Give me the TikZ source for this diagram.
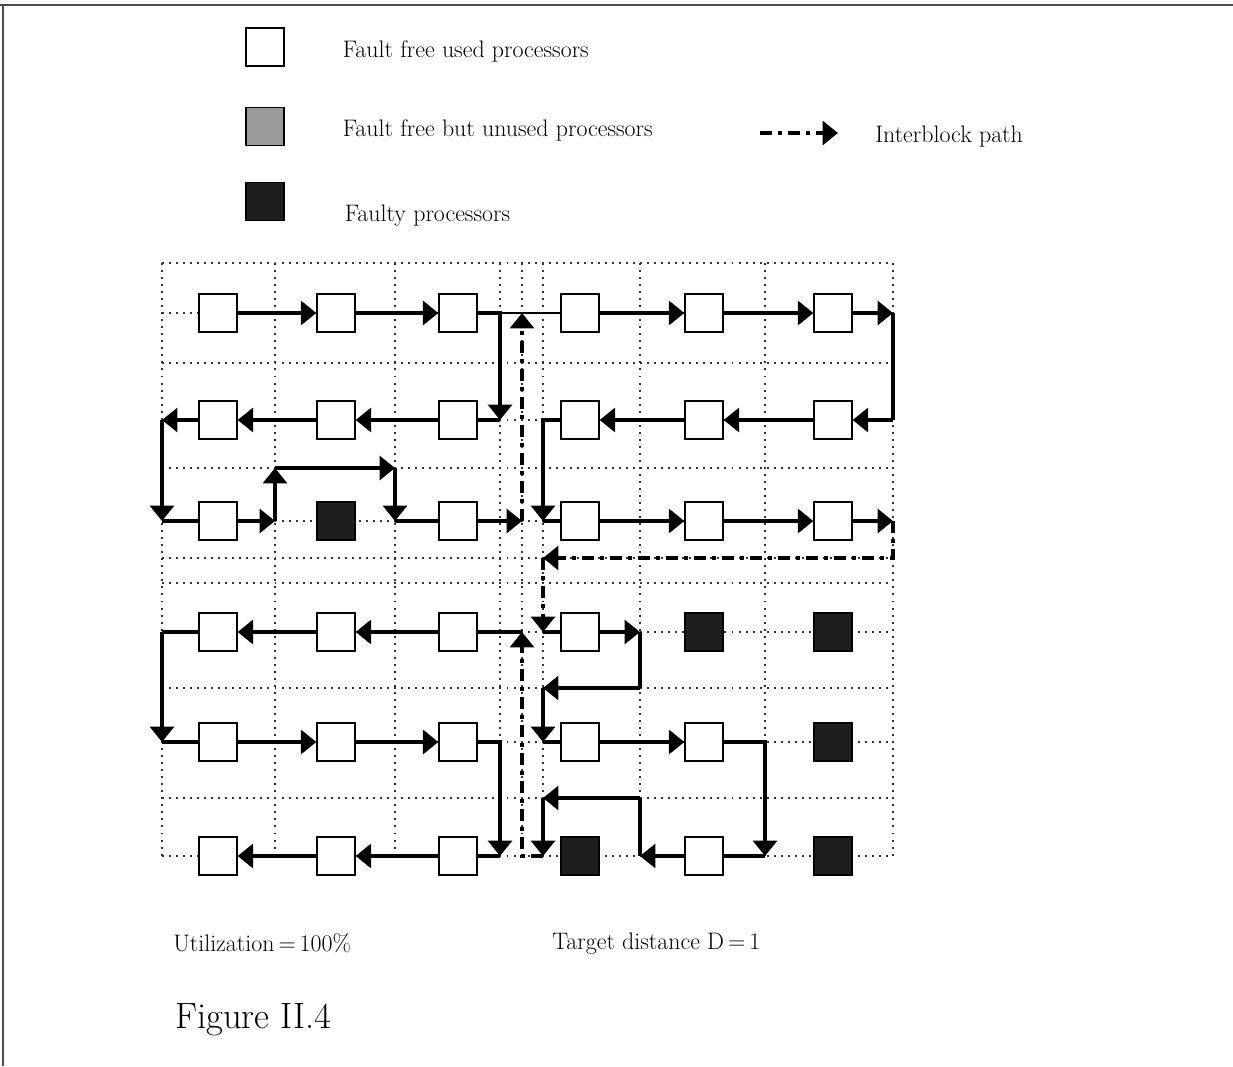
\documentclass[tikz,border=0pt]{standalone}
\usepackage{xcolor}
\usepackage{tikz}
\usetikzlibrary{positioning,arrows.meta}
\definecolor{faultgray}{HTML}{1E1E1E}
\definecolor{sparegray}{HTML}{9A9A9A}

\begin{document}
\begin{tikzpicture}[
x=0.025cm, y=-0.025cm,
proc/.style={
draw=black,
fill=white,
line width=0.9pt,
minimum size=0.95cm,
inner sep=0pt
},
faulty/.style={proc, fill=faultgray},
spare/.style={proc, fill=sparegray},
meshline/.style={
black!80,
line width=1.4pt,
dash pattern=on 1.4pt off 3.6pt
},
arrow/.style={
-{Triangle[length=11pt,width=17pt]},
line width=3.2pt
},
link/.style={line width=3.2pt},
thinlink/.style={line width=1.5pt},
inter/.style={
-{Triangle[length=11pt,width=17pt]},
line width=3pt,
dash pattern=on 8.5pt off 4.3pt on 2.8pt off 4.3pt
},
legendtext/.style={font=\fontsize{17}{20}\selectfont, inner sep=0pt},
pageline/.style={black!70, line width=1.5pt}
]

\useasboundingbox (0,0) rectangle (1233,1066);

% page frame
\draw[pageline] (0,5) -- (1233,5);
\draw[pageline] (3,5) -- (3,1066);

% legend
\node[proc] (keyused) at (265,47) {};
\node[spare, below=1.0cm of keyused] (keyspare) {};
\node[faulty, below=0.9cm of keyspare] (keyfault) {};

\node[legendtext, right=1.45cm of keyused, yshift=-0.1cm] (keyusedtext)
{Fault free used processors};
\node[legendtext, right=1.45cm of keyspare, yshift=-0.1cm] (keysparetext)
{Fault free but unused processors};
\node[legendtext, right=1.5cm of keyfault, yshift=-0.35cm] (keyfaulttext)
{Faulty processors};

\coordinate (keypathstart) at (760,133);
\coordinate (keypathend) at (838,133);
\draw[inter] (keypathstart) -- (keypathend);
\node[legendtext, anchor=west] (keypathtext) at (875,137) {Interblock path};

% mesh
\draw[meshline]
(162,263) -- (893,263) (162,363) -- (893,363) (162,468) -- (893,468)
(162,558) -- (893,558) (162,583) -- (893,583) (162,688) -- (893,688)
(162,798) -- (893,798)
(162,313) -- (893,313) (162,420) -- (893,420) (162,521) -- (893,521)
(162,632) -- (893,632) (162,742) -- (893,742) (162,856) -- (893,856)
(162,263) -- (162,856) (275,263) -- (275,856) (395,263) -- (395,856)
(500,263) -- (500,856) (522,263) -- (522,856) (543,263) -- (543,856)
(640,263) -- (640,856) (765,263) -- (765,856) (893,263) -- (893,856);

% processors
\node[proc] (p11) at (218,313) {};
\node[proc] (p12) at (336,313) {};
\node[proc] (p13) at (458,313) {};
\node[proc] (p14) at (580,313) {};
\node[proc] (p15) at (704,313) {};
\node[proc] (p16) at (833,313) {};

\node[proc] (p21) at (218,420) {};
\node[proc] (p22) at (336,420) {};
\node[proc] (p23) at (458,420) {};
\node[proc] (p24) at (580,420) {};
\node[proc] (p25) at (704,420) {};
\node[proc] (p26) at (833,420) {};

\node[proc] (p31) at (218,521) {};
\node[faulty] (p32) at (336,521) {};
\node[proc] (p33) at (458,521) {};
\node[proc] (p34) at (580,521) {};
\node[proc] (p35) at (704,521) {};
\node[proc] (p36) at (833,521) {};

\node[proc] (p41) at (218,632) {};
\node[proc] (p42) at (336,632) {};
\node[proc] (p43) at (458,632) {};
\node[proc] (p44) at (580,632) {};
\node[faulty] (p45) at (704,632) {};
\node[faulty] (p46) at (833,632) {};

\node[proc] (p51) at (218,742) {};
\node[proc] (p52) at (336,742) {};
\node[proc] (p53) at (458,742) {};
\node[proc] (p54) at (580,742) {};
\node[proc] (p55) at (704,742) {};
\node[faulty] (p56) at (833,742) {};

\node[proc] (p61) at (218,856) {};
\node[proc] (p62) at (336,856) {};
\node[proc] (p63) at (458,856) {};
\node[faulty] (p64) at (580,856) {};
\node[proc] (p65) at (704,856) {};
\node[faulty] (p66) at (833,856) {};

% turning points
\coordinate (a1) at (500,313);
\coordinate (a2) at (500,420);
\coordinate (a3) at (162,420);
\coordinate (a4) at (162,521);
\coordinate (a5) at (275,521);
\coordinate (a6) at (275,468);
\coordinate (a7) at (395,468);
\coordinate (a8) at (395,521);
\coordinate (a9) at (522,521);
\coordinate (b0) at (522,313);
\coordinate (b1) at (893,313);
\coordinate (b2) at (893,420);
\coordinate (b3) at (543,420);
\coordinate (b4) at (543,521);
\coordinate (b5) at (893,521);
\coordinate (b6) at (893,558);
\coordinate (b7) at (543,558);
\coordinate (d0) at (543,632);
\coordinate (d1) at (640,632);
\coordinate (d2) at (640,688);
\coordinate (d3) at (543,688);
\coordinate (d4) at (543,742);
\coordinate (d5) at (765,742);
\coordinate (d6) at (765,856);
\coordinate (d7) at (640,856);
\coordinate (d8) at (640,798);
\coordinate (d9) at (543,798);
\coordinate (d10) at (543,856);
\coordinate (c0) at (522,856);
\coordinate (c1) at (522,632);
\coordinate (c2) at (162,632);
\coordinate (c3) at (162,742);
\coordinate (c4) at (500,742);
\coordinate (c5) at (500,856);

% upper left block
\draw[arrow] (p11) -- (p12);
\draw[arrow] (p12) -- (p13);
\draw[arrow] (p13) -- (a1) -- (a2);
\draw[link] (a2) -- (p23);
\draw[arrow] (p23) -- (p22);
\draw[arrow] (p22) -- (p21);
\draw[arrow] (p21) -- (a3);
\draw[arrow] (a3) -- (a4);
\draw[link] (a4) -- (p31);
\draw[arrow] (p31) -- (a5);
\draw[arrow] (a5) -- (a6);
\draw[arrow] (a6) -- (a7);
\draw[arrow] (a7) -- (a8);
\draw[link] (a8) -- (p33);
\draw[arrow] (p33) -- (a9);
\draw[inter] (a9) -- (b0);

% upper right block
\draw[thinlink] (a1) -- (p14);
\draw[arrow] (p14) -- (p15);
\draw[arrow] (p15) -- (p16);
\draw[arrow] (p16) -- (b1);
\draw[link] (b1) -- (b2);
\draw[arrow] (b2) -- (p26);
\draw[arrow] (p26) -- (p25);
\draw[arrow] (p25) -- (p24);
\draw[arrow] (p24) -- (b3) -- (b4);
\draw[link] (b4) -- (p34);
\draw[arrow] (p34) -- (p35);
\draw[arrow] (p35) -- (p36);
\draw[arrow] (p36) -- (b5);
\draw[inter] (b5) -- (b6) -- (b7);
\draw[inter] (b7) -- (d0);

% lower right block
\draw[link] (d0) -- (p44);
\draw[arrow] (p44) -- (d1);
\draw[link] (d1) -- (d2);
\draw[arrow] (d2) -- (d3);
\draw[arrow] (d3) -- (d4);
\draw[link] (d4) -- (p54);
\draw[arrow] (p54) -- (p55);
\draw[arrow] (p55) -- (d5) -- (d6);
\draw[link] (d6) -- (p65);
\draw[arrow] (p65) -- (d7);
\draw[link] (d7) -- (d8);
\draw[arrow] (d8) -- (d9);
\draw[arrow] (d9) -- (d10);
\draw[inter] (d10) -- (c0) -- (c1);

% lower left block
\draw[link] (c1) -- (p43);
\draw[arrow] (p43) -- (p42);
\draw[arrow] (p42) -- (p41);
\draw[link] (p41) -- (c2);
\draw[arrow] (c2) -- (c3);
\draw[link] (c3) -- (p51);
\draw[arrow] (p51) -- (p52);
\draw[arrow] (p52) -- (p53);
\draw[arrow] (p53) -- (c4) -- (c5);
\draw[link] (c5) -- (p63);
\draw[arrow] (p63) -- (p62);
\draw[arrow] (p62) -- (p61);

% notes
\node[legendtext, anchor=west] (utilnote) at (173,943) {Utilization\,=\,100\%};
\node[legendtext, anchor=west] (distnote) at (552,944) {Target distance D\,=\,1};
\node[anchor=west, inner sep=0pt, font=\fontsize{26}{30}\selectfont] (figlabel)
at (175,1020) {Figure II.4};

\end{tikzpicture}
\end{document}
